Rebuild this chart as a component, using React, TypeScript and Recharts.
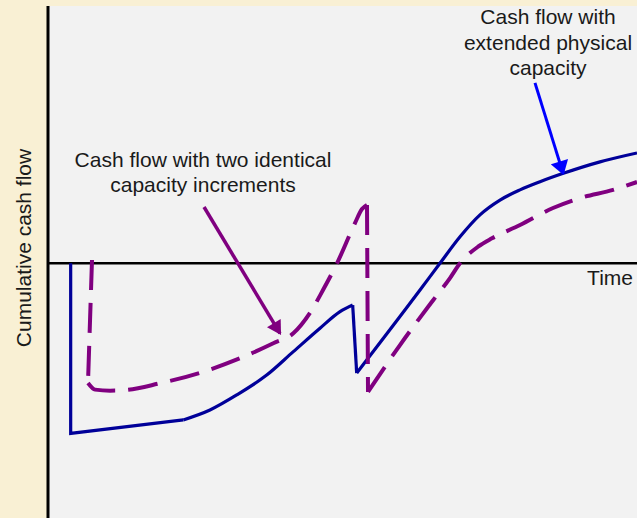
import { LineChart, Line, XAxis, YAxis, CartesianGrid, ReferenceLine } from "recharts";

// time (0-100) vs cumulative cash flow (-100..101)
const blueDrop1 = [
  { t: 3.85, c: 0 },
  { t: 3.85, c: -66.8 },
  { t: 22.97, c: -61.5 },
];
const blueRise1 = [
  { t: 22.97, c: -61.5 },
  { t: 27.5, c: -57.6 },
  { t: 32.04, c: -51.7 },
  { t: 37.13, c: -43.9 },
  { t: 41.65, c: -34.7 },
  { t: 46.18, c: -25.5 },
  { t: 49.58, c: -19.0 },
  { t: 51.73, c: -16.4 },
];
const blueDrop2 = [
  { t: 51.73, c: -16.4 },
  { t: 52.41, c: -43.1 },
];
const blueRise2 = [
  { t: 52.41, c: -43.1 },
  { t: 63.16, c: -10.5 },
  { t: 66.55, c: 0 },
  { t: 69.95, c: 10.4 },
  { t: 73.34, c: 19.0 },
  { t: 76.74, c: 24.8 },
  { t: 80.14, c: 28.8 },
  { t: 83.53, c: 32.0 },
  { t: 87.49, c: 35.3 },
  { t: 93.72, c: 39.8 },
  { t: 100, c: 43.3 },
];

const purpleDrop1 = [
  { t: 7.47, c: 1.3 },
  { t: 6.79, c: -47.0 },
];
const purpleRise1 = [
  { t: 6.79, c: -47.0 },
  { t: 8.0, c: -49.6 },
  { t: 10.53, c: -50.0 },
  { t: 12.51, c: -49.9 },
  { t: 19.02, c: -47.1 },
  { t: 25.81, c: -43.0 },
  { t: 32.6, c: -37.3 },
  { t: 38.25, c: -31.4 },
  { t: 41.65, c: -27.5 },
  { t: 44.48, c: -19.5 },
  { t: 46.69, c: -10.5 },
  { t: 49.07, c: 0 },
  { t: 52.12, c: 15.8 },
  { t: 53.31, c: 21.3 },
  { t: 54.16, c: 22.9 },
];
const purpleDrop2 = [
  { t: 54.16, c: 22.9 },
  { t: 54.33, c: -50.5 },
];
const purpleRise2 = [
  { t: 54.33, c: -50.5 },
  { t: 59.76, c: -32.1 },
  { t: 65.42, c: -14.4 },
  { t: 68.25, c: -5.8 },
  { t: 69.95, c: 0 },
  { t: 73.01, c: 6.5 },
  { t: 75.38, c: 9.8 },
  { t: 80.14, c: 15.0 },
  { t: 85.74, c: 21.7 },
  { t: 90.32, c: 25.6 },
  { t: 95.93, c: 28.8 },
  { t: 100, c: 31.9 },
];

const blueArrow = [{ x: 82.68, y: 70.8 }, { x: 87.44, y: 35.4 }];
const purpleArrow = [{ x: 26.49, y: 22.1 }, { x: 39.39, y: -27.5 }];

const leftNote = ["Cash flow with two identical", "capacity increments"];
const rightNote = ["Cash flow with", "extended physical", "capacity"];

const BLUE = "#000099";
const PURPLE = "#800080";
const font = { fontFamily: "'Liberation Sans', Arial, sans-serif", fontSize: 21, fill: "#1a1a1a" };

export default function App() {
  const common = { dataKey: "c", dot: false, activeDot: false, isAnimationActive: false } as const;
  return (
    <div style={{ position: "absolute", left: 0, top: 0, width: 637, height: 518, background: "#f9f0d4" }}>
      <LineChart width={637} height={518} margin={{ top: 6, right: 0, bottom: 0, left: 0 }}>
        <defs>
          <marker id="headBlue" markerUnits="userSpaceOnUse" markerWidth={16} markerHeight={18} viewBox="0 0 14 18" refX={12} refY={9} orient="auto">
            <path d="M0,0 L14,9 L0,18 z" fill="#0000ff" />
          </marker>
          <marker id="headPurple" markerUnits="userSpaceOnUse" markerWidth={16} markerHeight={16} viewBox="0 0 14 16" refX={12} refY={8} orient="auto">
            <path d="M0,0 L14,8 L0,16 z" fill={PURPLE} />
          </marker>
        </defs>
        <CartesianGrid horizontal={false} vertical={false} fill="#f2f2f2" fillOpacity={1} />
        <XAxis type="number" dataKey="t" domain={[0, 100]} hide allowDataOverflow />
        <YAxis type="number" domain={[-100, 101]} width={48} tick={false} tickLine={false}
          axisLine={{ stroke: "#000", strokeWidth: 3 }} allowDataOverflow />
        <ReferenceLine y={0} stroke="#000" strokeWidth={2.5} />

        <Line {...common} data={blueDrop1} type="linear" stroke={BLUE} strokeWidth={3.2} />
        <Line {...common} data={blueRise1} type="monotone" stroke={BLUE} strokeWidth={3.2} />
        <Line {...common} data={blueDrop2} type="linear" stroke={BLUE} strokeWidth={3.2} />
        <Line {...common} data={blueRise2} type="monotone" stroke={BLUE} strokeWidth={3.2} />

        <Line {...common} data={purpleDrop1} type="linear" stroke={PURPLE} strokeWidth={4} strokeDasharray="30 13" />
        <Line {...common} data={purpleRise1} type="monotone" stroke={PURPLE} strokeWidth={4} strokeDasharray="30 13" />
        <Line {...common} data={purpleDrop2} type="linear" stroke={PURPLE} strokeWidth={4} strokeDasharray="30 13" />
        <Line {...common} data={purpleRise2} type="monotone" stroke={PURPLE} strokeWidth={4} strokeDasharray="30 13" />

        <ReferenceLine segment={blueArrow} stroke="#0000ff" strokeWidth={3} markerEnd="url(#headBlue)" ifOverflow="visible" />
        <ReferenceLine segment={purpleArrow} stroke={PURPLE} strokeWidth={3.5} markerEnd="url(#headPurple)" ifOverflow="visible" />

        <text x={633} y={285} textAnchor="end" {...font}>Time</text>
        <text transform="translate(31,248) rotate(-90)" textAnchor="middle" {...font}>Cumulative cash flow</text>
        {leftNote.map((s, i) => (
          <text key={s} x={203} y={167 + i * 25.3} textAnchor="middle" {...font}>{s}</text>
        ))}
        {rightNote.map((s, i) => (
          <text key={s} x={548} y={24 + i * 25.5} textAnchor="middle" {...font}>{s}</text>
        ))}
      </LineChart>
    </div>
  );
}
